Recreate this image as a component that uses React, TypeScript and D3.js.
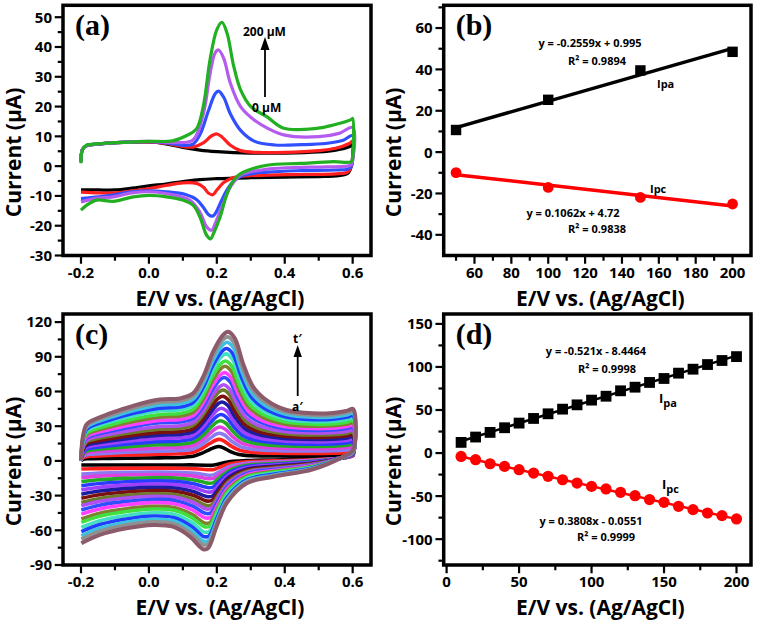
import React from 'react';
import * as d3 from 'd3';

type P = [number, number];

// ---------- Panel (a): CVs at different concentrations ----------
const cvLabels = ['0 µM', '50 µM', '100 µM', '150 µM', '200 µM'];
const cvColors = ['#000000', '#ff1f1f', '#3050ff', '#b45cf0', '#22b022'];
const cv0: P[] = [
  [-0.2, 1.5], [-0.196, 5.5], [-0.185, 6.8], [-0.15, 7.4], [-0.095, 7.9], [0.0, 8.1], [0.05, 7.5], [0.1, 6.3],
  [0.15, 5.4], [0.2, 4.9], [0.3, 4.4], [0.4, 4.4], [0.5, 4.8], [0.55, 5.4], [0.59, 6.5], [0.6, 7.3],
  [0.6, 3.5], [0.596, 0], [0.585, -2.5], [0.55, -3.3], [0.5, -3.5], [0.4, -3.7], [0.3, -3.9], [0.2, -4.2],
  [0.15, -4.5], [0.1, -5.2], [0.05, -6.0], [0.0, -6.6], [-0.05, -7.4], [-0.1, -8.0], [-0.15, -8.0], [-0.2, -8.0],
];
const cv50: P[] = [
  [-0.2, 1.5], [-0.196, 5.5], [-0.185, 6.8], [-0.15, 7.4], [-0.095, 7.9], [0.0, 8.1], [0.05, 7.6], [0.1, 6.6],
  [0.13, 6.4], [0.16, 7.8], [0.185, 10.2], [0.2, 10.8], [0.215, 9.8], [0.24, 7.0], [0.27, 5.2], [0.32, 4.6],
  [0.4, 4.6], [0.5, 5.2], [0.55, 6.0], [0.59, 7.6], [0.6, 8.4],
  [0.6, 3.0], [0.596, 0], [0.585, -2], [0.55, -2.6], [0.45, -2.8], [0.3, -3.2], [0.26, -3.6], [0.24, -4.2],
  [0.22, -5.5], [0.2, -8.0], [0.188, -9.6], [0.175, -9.0], [0.16, -7.0], [0.14, -5.8], [0.1, -5.6], [0.05, -6.5],
  [0.0, -7.5], [-0.05, -8.3], [-0.1, -9.0], [-0.15, -9.0], [-0.2, -8.7],
];
const cv100: P[] = [
  [-0.2, 1.5], [-0.196, 5.5], [-0.185, 6.8], [-0.15, 7.4], [-0.095, 7.9], [0.0, 8.2], [0.05, 7.8], [0.1, 7.0],
  [0.13, 7.4], [0.15, 10.5], [0.175, 18.5], [0.195, 24.3], [0.205, 25.2], [0.22, 23.2], [0.24, 17.5], [0.27, 12],
  [0.31, 8.4], [0.37, 7.1], [0.45, 7.2], [0.52, 7.6], [0.57, 8.6], [0.6, 10.2],
  [0.6, 2.5], [0.596, 0], [0.585, -1], [0.55, -1.3], [0.45, -1.5], [0.35, -2], [0.28, -3], [0.25, -5],
  [0.23, -8], [0.21, -12.5], [0.195, -16], [0.187, -16.8], [0.175, -16.2], [0.16, -13.8], [0.14, -11.2], [0.11, -9.6],
  [0.05, -8.6], [0.0, -8.3], [-0.05, -8.6], [-0.1, -9.6], [-0.15, -10.3], [-0.2, -10.9],
];
const cv150: P[] = [
  [-0.2, 1.5], [-0.196, 5.5], [-0.185, 6.8], [-0.15, 7.4], [-0.095, 7.9], [0.0, 8.3], [0.05, 8.0], [0.08, 7.9],
  [0.13, 8.8], [0.16, 17.5], [0.18, 31], [0.195, 38], [0.205, 39], [0.22, 36.3], [0.24, 27.8], [0.27, 20],
  [0.31, 15.5], [0.35, 12.7], [0.4, 10.4], [0.5, 9.9], [0.56, 11], [0.6, 13],
  [0.6, 2], [0.596, 0.5], [0.585, 0], [0.5, -0.3], [0.45, -0.4], [0.35, -1], [0.27, -3], [0.24, -7],
  [0.215, -13.7], [0.195, -19.3], [0.185, -21.5], [0.17, -20.4], [0.15, -15.4], [0.12, -11.4], [0.05, -9.2], [0.0, -8.6],
  [-0.05, -9], [-0.105, -10.3], [-0.16, -10.9], [-0.2, -12],
];
const cv200: P[] = [
  [-0.2, 1], [-0.196, 5.5], [-0.185, 7.0], [-0.15, 7.5], [-0.095, 7.9], [0.0, 8.3], [0.07, 8.5], [0.11, 10.2],
  [0.14, 12.5], [0.16, 20], [0.18, 35.7], [0.2, 45.8], [0.215, 48.3], [0.23, 44.7], [0.25, 33.4], [0.27, 25.6],
  [0.3, 20], [0.347, 16.6], [0.397, 12.7], [0.494, 12.7], [0.543, 13.8], [0.597, 15.7], [0.6, 16],
  [0.6, 3], [0.596, 1.5], [0.543, 1.5], [0.445, 0.9], [0.347, 0.3], [0.27, -2.5], [0.25, -4.7], [0.23, -9.2],
  [0.21, -17], [0.19, -22.7], [0.182, -24.4], [0.17, -23.2], [0.15, -17], [0.13, -13.1], [0.1, -11.4], [0.052, -10.3],
  [0.0, -9.8], [-0.046, -10.3], [-0.105, -11.8], [-0.154, -11.4], [-0.183, -13.1], [-0.2, -14.8],
];
const cvCurves = [cv0, cv50, cv100, cv150, cv200];

// ---------- Panel (b): peak currents vs concentration ----------
const concB = [50, 100, 150, 200];
const ipaB = [10.7, 25.3, 39.5, 48.5];
const ipcB = [-9.9, -17.1, -21.9, -25.1];

// ---------- Panel (d): peak currents vs scan rate ----------
const rateD = [10, 20, 30, 40, 50, 60, 70, 80, 90, 100, 110, 120, 130, 140, 150, 160, 170, 180, 190, 200];
const ipaD = [12.4, 18.6, 24, 29.4, 34.8, 40.2, 45.6, 51, 56, 61.5, 66, 72.3, 76.5, 82, 86.6, 92.8, 97.4, 102.8, 107.5, 112];
const ipcD = [-3.9, -7.7, -12.4, -15.5, -19.3, -23.2, -27, -31, -34.8, -38.7, -41.7, -45.6, -49.5, -54, -57.2, -61.8, -65.7, -69.6, -72.7, -76.5];

// ---------- Panel (c): CVs at different scan rates (first and last curve read, others keyed to panel d peaks) ----------
const innerUp: P[] = [
  [-0.2, 0.3], [-0.195, 1.2], [-0.185, 1.8], [-0.174, 2], [-0.115, 2.2], [-0.042, 2.4], [0.032, 2.6], [0.091, 3],
  [0.13, 4], [0.155, 6.5], [0.18, 10], [0.195, 11.8], [0.205, 12.4], [0.218, 11.5], [0.24, 8], [0.265, 5.5],
  [0.3, 4.5], [0.38, 4.2], [0.48, 4.2], [0.54, 4.4], [0.585, 5], [0.601, 5.5],
];
const innerLo: P[] = [
  [0.601, 4.5], [0.572, 2.5], [0.483, 1.5], [0.366, 0.8], [0.288, 0.3], [0.24, -0.5], [0.215, -2], [0.195, -3.4],
  [0.182, -3.9], [0.168, -3.7], [0.14, -3.5], [0.08, -3.5], [0.012, -3.5], [-0.066, -3.5], [-0.145, -3.5], [-0.199, -3.5],
];
const outerUp: P[] = [
  [-0.2, 0.5], [-0.195, 20], [-0.185, 31], [-0.174, 34], [-0.115, 41], [-0.042, 48], [0.032, 53], [0.091, 54],
  [0.13, 58.4], [0.16, 72.8], [0.189, 94.4], [0.218, 108.8], [0.233, 111.7], [0.253, 106], [0.277, 84.3], [0.307, 64.1],
  [0.346, 52.6], [0.405, 44], [0.483, 41.1], [0.542, 41.5], [0.585, 43.5], [0.601, 45],
];
const outerLo: P[] = [
  [0.601, 9.4], [0.572, 3.6], [0.483, -7.3], [0.366, -13.7], [0.288, -19.4], [0.229, -36.6], [0.199, -56.9], [0.174, -75.5],
  [0.16, -76.4], [0.15, -74.2], [0.121, -65.5], [0.071, -56.9], [0.012, -55.4], [-0.066, -58.3], [-0.145, -64], [-0.199, -71.2],
];
const scanLabels = ['a′', 'b′', 'c′', 'd′', 'e′', 'f′', 'g′', 'h′', 'i′', 'j′', 'k′', 'l′', 'm′', 'n′', 'o′', 'p′', 'q′', 'r′', 's′', 't′'];
const scanColors = [
  '#000000', '#ff2020', '#8a7cf0', '#e040e0', '#22aa22', '#2a3cff', '#a040ff', '#1c1ca0', '#7a1010', '#6b7b2a',
  '#b050f0', '#3050ff', '#ff40ff', '#808030', '#40e040', '#40e0c0', '#2040ff', '#40c0e0', '#909090', '#8b5a6b',
];

// ---------- Tick values ----------
const xTicksCV = [-0.2, 0, 0.2, 0.4, 0.6];
const xMinorCV = [-0.1, 0.1, 0.3, 0.5];
const yTicksA = [-30, -20, -10, 0, 10, 20, 30, 40, 50];
const yMinorA = [-25, -15, -5, 5, 15, 25, 35, 45];
const xTicksB = [60, 80, 100, 120, 140, 160, 180, 200];
const xMinorB = [50, 70, 90, 110, 130, 150, 170, 190];
const yTicksB = [-40, -20, 0, 20, 40, 60];
const yMinorB = [-30, -10, 10, 30, 50, 70];
const yTicksC = [-90, -60, -30, 0, 30, 60, 90, 120];
const yMinorC = [-75, -45, -15, 15, 45, 75, 105];
const xTicksD = [0, 50, 100, 150, 200];
const xMinorD = [25, 75, 125, 175];
const yTicksD = [-100, -50, 0, 50, 100, 150];
const yMinorD = [-125, -75, -25, 25, 75, 125];

const FONT = "'Open Sans', 'DejaVu Sans', Arial, sans-serif";
const SERIF = "'Liberation Serif', 'Times New Roman', serif";

function fit(xs: number[], ys: number[]): [number, number] {
  const mx = d3.mean(xs) as number;
  const my = d3.mean(ys) as number;
  const sxy = d3.sum(xs.map((x, i) => (x - mx) * (ys[i] - my)));
  const sxx = d3.sum(xs.map((x) => (x - mx) * (x - mx)));
  const m = sxy / sxx;
  return [m, my - m * mx];
}

function blend(a: P[], b: P[], t: number): P[] {
  return a.map((p, i) => [p[0] + (b[i][0] - p[0]) * t, p[1] + (b[i][1] - p[1]) * t] as P);
}

type Scale = d3.ScaleLinear<number, number>;

interface PanelProps {
  x0: number; x1: number; y0: number; y1: number;
  xDomain: [number, number]; yDomain: [number, number];
  xMajor: number[]; xMinor: number[]; yMajor: number[]; yMinor: number[];
  xFmt: (v: number) => string;
  tag: string;
  render: (xs: Scale, ys: Scale) => React.ReactNode;
}

function Panel(p: PanelProps) {
  const xs = d3.scaleLinear().domain(p.xDomain).range([p.x0, p.x1]);
  const ys = d3.scaleLinear().domain(p.yDomain).range([p.y1, p.y0]);
  const half = 1.75;
  const majL = 6.5;
  const minL = 3.5;
  return (
    <g>
      {p.render(xs, ys)}
      {/* ticks */}
      {p.xMajor.map((v) => (
        <line key={'xM' + v} x1={xs(v)} x2={xs(v)} y1={p.y1} y2={p.y1 + half + majL} stroke="#000" strokeWidth={2.2} />
      ))}
      {p.xMinor.map((v) => (
        <line key={'xm' + v} x1={xs(v)} x2={xs(v)} y1={p.y1} y2={p.y1 + half + minL} stroke="#000" strokeWidth={2.2} />
      ))}
      {p.yMajor.map((v) => (
        <line key={'yM' + v} x1={p.x0} x2={p.x0 - half - majL} y1={ys(v)} y2={ys(v)} stroke="#000" strokeWidth={2.2} />
      ))}
      {p.yMinor.map((v) => (
        <line key={'ym' + v} x1={p.x0} x2={p.x0 - half - minL} y1={ys(v)} y2={ys(v)} stroke="#000" strokeWidth={2.2} />
      ))}
      {p.xMajor.map((v) => (
        <text key={'xl' + v} x={xs(v)} y={p.y1 + 22} textAnchor="middle" fontFamily={FONT} fontWeight={700} fontSize={15}>
          {p.xFmt(v)}
        </text>
      ))}
      {p.yMajor.map((v) => (
        <text key={'yl' + v} x={p.x0 - 11} y={ys(v)} dy="0.36em" textAnchor="end" fontFamily={FONT} fontWeight={700} fontSize={15}>
          {String(v)}
        </text>
      ))}
      <rect x={p.x0} y={p.y0} width={p.x1 - p.x0} height={p.y1 - p.y0} fill="none" stroke="#000" strokeWidth={3.5} />
      <text x={(p.x0 + p.x1) / 2 + 3} y={p.y1 + 50} textAnchor="middle" fontFamily={FONT} fontWeight={700} fontSize={21}>
        E/V vs. (Ag/AgCl)
      </text>
      <text
        transform={`translate(${p.x0 - 42.5},${(p.y0 + p.y1) / 2 + 22}) rotate(-90)`}
        textAnchor="middle" fontFamily={FONT} fontWeight={700} fontSize={21}
      >
        Current (µA)
      </text>
      <text x={p.x0 + 12} y={p.y0 + 30} fontFamily={SERIF} fontWeight={700} fontSize={30}>
        {p.tag}
      </text>
    </g>
  );
}

const fmt1 = (v: number) => v.toFixed(1);
const fmt0 = (v: number) => String(v);

export default function App() {
  const cvLine = (xs: Scale, ys: Scale) =>
    d3.line<P>().x((d) => xs(d[0])).y((d) => ys(d[1])).curve(d3.curveCatmullRom.alpha(0.5));

  const [mAb, bAb] = fit(concB, ipaB);
  const [mCb, bCb] = fit(concB, ipcB);
  const [mAd, bAd] = fit(rateD, ipaD);
  const [mCd, bCd] = fit(rateD, ipcD);

  const n = ipaD.length;
  const scanCurves = ipaD.map((ipa, i) => {
    const tu = (ipa - ipaD[0]) / (ipaD[n - 1] - ipaD[0]);
    const tl = (ipcD[i] - ipcD[0]) / (ipcD[n - 1] - ipcD[0]);
    return [...blend(innerUp, outerUp, tu), ...blend(innerLo, outerLo, tl)];
  });

  const annot = { fontFamily: FONT, fontWeight: 700 } as const;

  return (
    <div style={{ position: 'absolute', left: 0, top: 0 }}>
      <svg width={757} height={622} viewBox="0 0 757 622" style={{ display: 'block', background: '#fff' }}>
        <rect width={757} height={622} fill="#fff" />
        {/* (a) */}
        <Panel
          x0={63} x1={371} y0={5.3} y1={255.5}
          xDomain={[-0.253, 0.654]} yDomain={[-30, 54]}
          xMajor={xTicksCV} xMinor={xMinorCV} yMajor={yTicksA} yMinor={yMinorA}
          xFmt={fmt1} tag="(a)"
          render={(xs, ys) => {
            const line = cvLine(xs, ys);
            return (
              <g>
                {cvCurves.map((c, i) => (
                  <path key={cvLabels[i]} d={line(c) || ''} fill="none" stroke={cvColors[i]} strokeWidth={3.2} strokeLinejoin="round" />
                ))}
                <line x1={265} x2={265} y1={97} y2={48} stroke="#000" strokeWidth={1.8} />
                <path d="M265,37 L260.5,50 L269.5,50 Z" fill="#000" />
                <text x={243} y={36} fontSize={12} {...annot}>200 µM</text>
                <text x={252} y={112} fontSize={12} {...annot}>0 µM</text>
              </g>
            );
          }}
        />
        {/* (b) */}
        <Panel
          x0={443.7} x1={751} y0={5.3} y1={255.5}
          xDomain={[43.3, 210]} yDomain={[-50, 71]}
          xMajor={xTicksB} xMinor={xMinorB} yMajor={yTicksB} yMinor={yMinorB}
          xFmt={fmt0} tag="(b)"
          render={(xs, ys) => {
            const xa = concB[0], xb = concB[concB.length - 1];
            return (
              <g>
                <line x1={xs(xa)} x2={xs(xb)} y1={ys(mAb * xa + bAb)} y2={ys(mAb * xb + bAb)} stroke="#000" strokeWidth={3.5} />
                <line x1={xs(xa)} x2={xs(xb)} y1={ys(mCb * xa + bCb)} y2={ys(mCb * xb + bCb)} stroke="#ff0000" strokeWidth={3.5} />
                {concB.map((c, i) => (
                  <rect key={'s' + c} x={xs(c) - 5.2} y={ys(ipaB[i]) - 5.2} width={10.4} height={10.4} fill="#000" />
                ))}
                {concB.map((c, i) => (
                  <circle key={'c' + c} cx={xs(c)} cy={ys(ipcB[i])} r={5.4} fill="#ff0000" />
                ))}
                <text x={590} y={47} textAnchor="middle" fontSize={11} {...annot}>y = -0.2559x + 0.995</text>
                <text x={597} y={65} textAnchor="middle" fontSize={11} {...annot}>R² = 0.9894</text>
                <text x={657} y={88} fontSize={11} {...annot}>Ipa</text>
                <text x={650} y={193} fontSize={11} {...annot}>Ipc</text>
                <text x={573} y={217} textAnchor="middle" fontSize={11} {...annot}>y = 0.1062x + 4.72</text>
                <text x={597} y={233} textAnchor="middle" fontSize={11} {...annot}>R² = 0.9838</text>
              </g>
            );
          }}
        />
        {/* (c) */}
        <Panel
          x0={63} x1={371} y0={314} y1={565}
          xDomain={[-0.253, 0.654]} yDomain={[-90, 127]}
          xMajor={xTicksCV} xMinor={xMinorCV} yMajor={yTicksC} yMinor={yMinorC}
          xFmt={fmt1} tag="(c)"
          render={(xs, ys) => {
            const line = cvLine(xs, ys);
            return (
              <g>
                {scanCurves.map((c, i) => (
                  <path key={scanLabels[i]} d={line(c) || ''} fill="none" stroke={scanColors[i]}
                    strokeWidth={i === n - 1 ? 4 : 3.6} strokeLinejoin="round" />
                ))}
                <line x1={297.7} x2={297.7} y1={396} y2={356} stroke="#000" strokeWidth={1.8} />
                <path d="M297.7,345 L293.5,357 L301.9,357 Z" fill="#000" />
                <text x={293} y={343} fontSize={12} {...annot}>{scanLabels[n - 1]}</text>
                <text x={292} y={411} fontSize={12} {...annot}>{scanLabels[0]}</text>
              </g>
            );
          }}
        />
        {/* (d) */}
        <Panel
          x0={443.7} x1={751} y0={314} y1={565}
          xDomain={[-2, 210]} yDomain={[-130, 161.5]}
          xMajor={xTicksD} xMinor={xMinorD} yMajor={yTicksD} yMinor={yMinorD}
          xFmt={fmt0} tag="(d)"
          render={(xs, ys) => {
            const xa = rateD[0], xb = rateD[rateD.length - 1];
            return (
              <g>
                <line x1={xs(xa)} x2={xs(xb)} y1={ys(mAd * xa + bAd)} y2={ys(mAd * xb + bAd)} stroke="#000" strokeWidth={2.5} />
                <line x1={xs(xa)} x2={xs(xb)} y1={ys(mCd * xa + bCd)} y2={ys(mCd * xb + bCd)} stroke="#ff0000" strokeWidth={2.5} />
                {rateD.map((r, i) => (
                  <rect key={'s' + r} x={xs(r) - 5.4} y={ys(ipaD[i]) - 5.4} width={10.8} height={10.8} fill="#000" />
                ))}
                {rateD.map((r, i) => (
                  <circle key={'c' + r} cx={xs(r)} cy={ys(ipcD[i])} r={5.6} fill="#ff0000" />
                ))}
                <text x={596} y={355} textAnchor="middle" fontSize={11} {...annot}>y = -0.521x - 8.4464</text>
                <text x={607} y={373} textAnchor="middle" fontSize={11} {...annot}>R² = 0.9998</text>
                <text x={659} y={403} fontSize={13} {...annot}>
                  I<tspan fontSize={11} dy={4}>pa</tspan>
                </text>
                <text x={662} y={489} fontSize={13} {...annot}>
                  I<tspan fontSize={11} dy={4}>pc</tspan>
                </text>
                <text x={591} y={525} textAnchor="middle" fontSize={11} {...annot}>y = 0.3808x - 0.0551</text>
                <text x={606} y={541} textAnchor="middle" fontSize={11} {...annot}>R² = 0.9999</text>
              </g>
            );
          }}
        />
      </svg>
    </div>
  );
}
